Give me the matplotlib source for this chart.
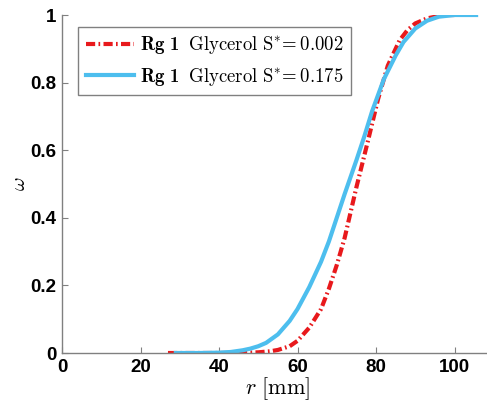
import matplotlib
matplotlib.use("Agg")
import matplotlib.pyplot as plt

# Datos
r_low = [27, 35, 40, 45, 50, 53, 55, 58, 60, 63, 66, 68, 70, 72, 75, 78, 80.5, 83, 86, 88, 90, 93, 96, 98, 100]
w_low = [0, 0, 0, 0.0005, 0.002, 0.005, 0.009, 0.02, 0.036, 0.075, 0.13, 0.19, 0.26, 0.34, 0.49, 0.63, 0.75, 0.85, 0.925, 0.955, 0.975, 0.99, 0.997, 1.0, 1.0]

r_high = [29, 35, 40, 43, 46, 48, 50, 52, 55, 58, 60, 63, 66, 68, 70, 72, 75, 77, 79, 82, 85, 87, 90, 93, 96, 100, 105.5]
w_high = [0, 0, 0.001, 0.003, 0.008, 0.013, 0.02, 0.03, 0.055, 0.095, 0.13, 0.195, 0.27, 0.33, 0.40, 0.47, 0.57, 0.64, 0.715, 0.81, 0.88, 0.92, 0.96, 0.983, 0.995, 1.0, 1.0]

labels = [r"$\mathbf{Rg\ 1}\;\ \mathrm{Glycerol\ S^{\ast}\!=0.002}$",
          r"$\mathbf{Rg\ 1}\;\ \mathrm{Glycerol\ S^{\ast}\!=0.175}$"]

# fuentes Computer Modern, con negrita cmb10 para "Rg 1"
plt.rcParams["mathtext.fontset"] = "custom"
plt.rcParams["mathtext.rm"] = "cmr10"
plt.rcParams["mathtext.it"] = "cmmi10"
plt.rcParams["mathtext.bf"] = "cmb10"
plt.rcParams["mathtext.fallback"] = "cm"

fig = plt.figure(figsize=(4.87, 4.05), dpi=100)
ax = fig.add_axes([62 / 487, 52 / 405, 110 * 3.925 / 487, 338 / 405])

ax.plot(r_low, w_low, color="#e8191c", lw=3, linestyle=(0, (2.2, 0.8, 0.4, 0.8)), label=labels[0])
ax.plot(r_high, w_high, color="#4dbeee", lw=3, label=labels[1])

ax.set_xlim(0, 110)
ax.set_ylim(0, 1)
ax.set_xticks([0, 20, 40, 60, 80, 100])
ax.set_yticks([0, 0.2, 0.4, 0.6, 0.8, 1])
ax.set_yticklabels(["0", "0.2", "0.4", "0.6", "0.8", "1"])

for s in ["top", "right"]:
    ax.spines[s].set_visible(False)
for s in ["left", "bottom"]:
    ax.spines[s].set_color("#808080")
    ax.spines[s].set_linewidth(1.0)
ax.tick_params(direction="in", length=4, color="#808080", pad=4)
for lab in ax.get_xticklabels() + ax.get_yticklabels():
    lab.set_fontfamily("Liberation Sans")
    lab.set_fontweight("bold")
    lab.set_fontsize(13.5)

ax.set_xlabel(r"$r\ \mathrm{[mm]}$", fontsize=16, labelpad=0, math_fontfamily="cm")
ax.set_ylabel(r"$\omega$", fontsize=15, labelpad=1, math_fontfamily="cm")

leg = ax.legend(loc="upper left", bbox_to_anchor=(78 / 487, 1 - 27 / 405),
                bbox_transform=fig.transFigure, borderaxespad=0,
                fontsize=13.5, fancybox=False, handlelength=2.6,
                framealpha=1, edgecolor="#808080", labelspacing=0.5,
                borderpad=0.4, handletextpad=0.3)
leg.get_frame().set_linewidth(1.0)

fig.savefig("out.png", dpi=100)
